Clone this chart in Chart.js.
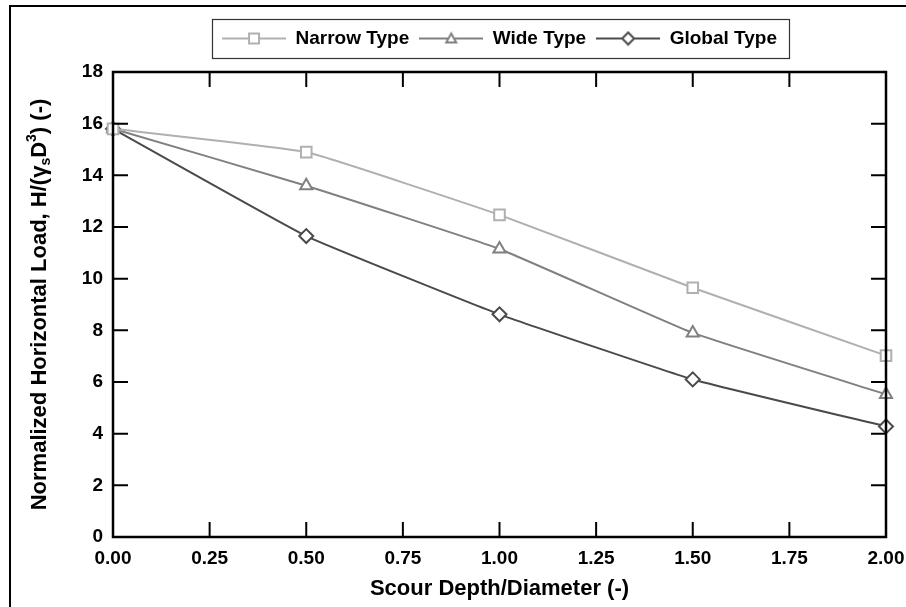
<!DOCTYPE html>
<html>
<head>
<meta charset="utf-8">
<script src="https://cdn.jsdelivr.net/npm/chart.js@4.4.1/dist/chart.umd.min.js"></script>
<style>
  html, body { margin: 0; padding: 0; background: #fff; }
  #wrap { width: 906px; height: 607px; }
</style>
</head>
<body>
<div id="wrap"><canvas id="chart" width="906" height="607"></canvas></div>
<script>
// scour depth / diameter
const scourDepth = [0, 0.5, 1.0, 1.5, 2.0];
// normalized horizontal load H/(γs D^3)
const narrowType = [15.8, 14.9, 12.47, 9.65, 7.02];
const wideType = [15.8, 13.6, 11.15, 7.9, 5.52];
const globalType = [15.8, 11.65, 8.62, 6.1, 4.28];

const seriesLabels = ['Narrow Type', 'Wide Type', 'Global Type'];
const seriesColors = ['#b0b0b0', '#808080', '#4a4a4a'];
const seriesMarkers = ['rect', 'triangle', 'rectRot'];

const FONT = 'Liberation Sans, Arial, Helvetica, sans-serif';

function toPoints(ys) {
  return scourDepth.map((x, i) => ({ x: x, y: ys[i] }));
}

// little line + marker picture used as the legend symbol
function legendIcon(color, marker) {
  const c = document.createElement('canvas');
  c.width = 64; c.height = 16;
  const ctx = c.getContext('2d');
  ctx.strokeStyle = color;
  ctx.lineWidth = 2;
  ctx.beginPath(); ctx.moveTo(0, 8); ctx.lineTo(64, 8); ctx.stroke();
  ctx.fillStyle = '#fff';
  ctx.beginPath();
  if (marker === 'rect') {
    ctx.rect(27, 3, 10, 10);
  } else if (marker === 'triangle') {
    ctx.moveTo(32, 3); ctx.lineTo(37, 12); ctx.lineTo(27, 12); ctx.closePath();
  } else {
    ctx.moveTo(32, 2); ctx.lineTo(38, 8); ctx.lineTo(32, 14); ctx.lineTo(26, 8); ctx.closePath();
  }
  ctx.fill(); ctx.stroke();
  return c;
}

const icons = seriesMarkers.map((m, i) => legendIcon(seriesColors[i], m));

function makeDataset(i, ys) {
  return {
    label: seriesLabels[i],
    data: toPoints(ys),
    borderColor: seriesColors[i],
    borderWidth: 2,
    backgroundColor: '#fff',
    pointStyle: seriesMarkers[i],
    pointRadius: seriesMarkers[i] === 'rect' ? 7.5 : 7,
    pointBorderWidth: 2,
    pointBackgroundColor: '#fff',
    pointBorderColor: seriesColors[i],
    tension: 0.1,
    fill: false,
    clip: false
  };
}

const framePlugin = {
  id: 'frame',
  beforeLayout(chart) {
    // leave a gap between the legend and the plot area
    if (chart.legend && !chart.legend._gapPatched) {
      const fit = chart.legend.fit;
      chart.legend.fit = function () { fit.call(this); this.height += 14; };
      chart.legend._gapPatched = true;
    }
  },
  afterDraw(chart) {
    const ctx = chart.ctx;
    const a = chart.chartArea;
    const xs = chart.scales.x, ys = chart.scales.y;
    ctx.save();
    // outer frame (left + top)
    ctx.strokeStyle = '#000';
    ctx.lineWidth = 2;
    ctx.beginPath();
    ctx.moveTo(10, 607); ctx.lineTo(10, 6); ctx.lineTo(906, 6);
    ctx.stroke();

    // plot box
    ctx.lineWidth = 2.5;
    ctx.strokeRect(a.left, a.top, a.right - a.left, a.bottom - a.top);

    // inward ticks on all four sides
    const tl = 15;
    ctx.lineWidth = 2;
    ctx.beginPath();
    ys.ticks.forEach(t => {
      const y = ys.getPixelForValue(t.value);
      ctx.moveTo(a.left, y); ctx.lineTo(a.left + tl, y);
      ctx.moveTo(a.right, y); ctx.lineTo(a.right - tl, y);
    });
    xs.ticks.forEach(t => {
      const x = xs.getPixelForValue(t.value);
      ctx.moveTo(x, a.bottom); ctx.lineTo(x, a.bottom - tl);
      ctx.moveTo(x, a.top); ctx.lineTo(x, a.top + tl);
    });
    ctx.stroke();

    // legend border
    const boxes = chart.legend.legendHitBoxes;
    if (boxes && boxes.length) {
      const l = Math.min(...boxes.map(b => b.left)) - 10;
      const r = Math.max(...boxes.map(b => b.left + b.width)) + 12;
      const cy = boxes[0].top + boxes[0].height / 2;
      ctx.lineWidth = 1.2;
      ctx.strokeStyle = '#333';
      ctx.strokeRect(Math.round(l) + 0.5, Math.round(cy - 20) + 0.5, Math.round(r - l), 39);
    }

    // y axis title with subscript / superscript
    const bold = sz => 'bold ' + sz + 'px ' + FONT;
    const parts = [
      { t: 'Normalized Horizontal Load, H/(', f: bold(22), dy: 0 },
      { t: 'γ', f: bold(22), dy: 0 },
      { t: 's', f: bold(14), dy: 6 },
      { t: 'D', f: bold(22), dy: 0 },
      { t: '3', f: bold(14), dy: -8 },
      { t: ') (-)', f: bold(22), dy: 0 }
    ];
    let total = 0;
    parts.forEach(p => { ctx.font = p.f; p.w = ctx.measureText(p.t).width; total += p.w; });
    ctx.translate(40, (a.top + a.bottom) / 2);
    ctx.rotate(-Math.PI / 2);
    ctx.fillStyle = '#000';
    ctx.textBaseline = 'middle';
    ctx.textAlign = 'left';
    let x = -total / 2;
    parts.forEach(p => { ctx.font = p.f; ctx.fillText(p.t, x, p.dy); x += p.w; });
    ctx.restore();
  }
};

new Chart(document.getElementById('chart'), {
  type: 'line',
  data: {
    datasets: [
      makeDataset(0, narrowType),
      makeDataset(1, wideType),
      makeDataset(2, globalType)
    ]
  },
  options: {
    responsive: false,
    animation: false,
    layout: { padding: { top: 19, right: 20, bottom: 0, left: 0 } },
    plugins: {
      tooltip: { enabled: false },
      legend: {
        position: 'top',
        fullSize: false,
        labels: {
          usePointStyle: true,
          pointStyleWidth: 64,
          padding: 10,
          color: '#000',
          font: { family: FONT, size: 19, weight: 'bold' },
          generateLabels(chart) {
            return chart.data.datasets.map((ds, i) => ({
              text: ds.label,
              pointStyle: icons[i],
              fillStyle: '#fff',
              strokeStyle: ds.borderColor,
              lineWidth: 0,
              hidden: false,
              datasetIndex: i,
              fontColor: '#000'
            }));
          }
        }
      }
    },
    scales: {
      x: {
        type: 'linear',
        min: 0,
        max: 2,
        ticks: {
          stepSize: 0.25,
          padding: 10,
          color: '#000',
          font: { family: FONT, size: 19, weight: 'bold' },
          maxRotation: 0,
          callback: v => Number(v).toFixed(2)
        },
        grid: { display: false, drawTicks: false },
        border: { display: false },
        title: {
          display: true,
          text: 'Scour Depth/Diameter (-)',
          color: '#000',
          font: { family: FONT, size: 22, weight: 'bold' },
          padding: { top: 4, bottom: 5 }
        },
        afterFit(scale) {
          scale.height = 70;
          scale.paddingLeft = 0;
          scale.paddingRight = 0;
        }
      },
      y: {
        min: 0,
        max: 18,
        ticks: {
          stepSize: 2,
          padding: 10,
          color: '#000',
          font: { family: FONT, size: 19, weight: 'bold' }
        },
        grid: { display: false, drawTicks: false },
        border: { display: false },
        afterFit(scale) { scale.width = 113; }
      }
    }
  },
  plugins: [framePlugin]
});
</script>
</body>
</html>
